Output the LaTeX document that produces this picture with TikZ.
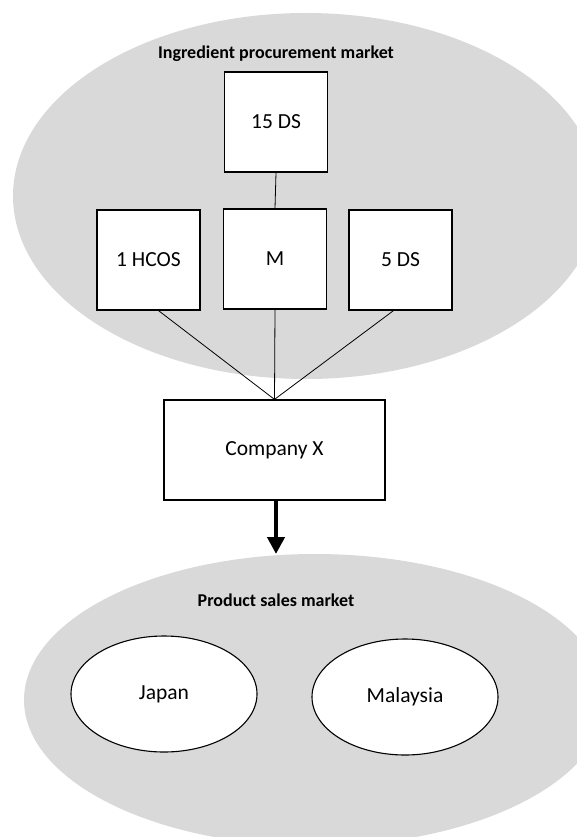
\documentclass[tikz,border=0pt]{standalone}
\usepackage{fontspec}
\setmainfont{Carlito}
\usetikzlibrary{shapes.geometric,arrows.meta,calc}

\definecolor{marketgrey}{RGB}{217,217,217}

\tikzset{
  market/.style={ellipse, fill=marketgrey, draw=none, inner sep=0pt},
  marketlabel/.style={font=\fontsize{18}{20}\selectfont\bfseries, inner sep=0pt},
  actor/.style={rectangle, draw=black, line width=1.2pt, fill=white,
    minimum width=103pt, minimum height=100pt, inner sep=0pt,
    font=\fontsize{21.5}{24}\selectfont},
  country/.style={ellipse, draw=black, line width=1.1pt, fill=white,
    minimum width=186pt, minimum height=116pt, inner sep=0pt,
    font=\fontsize{21.5}{24}\selectfont},
  link/.style={draw=black, line width=0.8pt},
  flow/.style={draw=black, line width=4.5pt,
    -{Triangle[width=17pt,length=17pt]}, shorten <=0.6pt}
}

\begin{document}
\begin{tikzpicture}[x=1pt, y=-1pt]
  \useasboundingbox (0,0) rectangle (577,837);
  \clip (0,0) rectangle (577,837);

  % the two markets
  \node[market, minimum width=586pt, minimum height=366pt] (procure) at (306,196) {};
  \node[market, minimum width=582pt, minimum height=292pt] (sales) at (315,700) {};

  \node[marketlabel] (procurelabel) at (276,54) {Ingredient procurement market};
  \node[marketlabel] (saleslabel) at (276,600) {Product sales market};

  % suppliers
  \node[actor] (fifteen) at (276,122) {15 DS};
  \node[actor] (hcos) at (148.5,260) {1 HCOS};
  \node[actor] (m) at (275,259) {M};
  \node[actor] (fiveds) at (400.5,260) {5 DS};

  % the company
  \node[actor, minimum width=221pt] (company) at (274.5,450) {Company X};

  % sales countries
  \node[country] (japan) at (164,694) {Japan};
  \node[country] (malaysia) at (405,697) {Malaysia};

  % supply links
  \draw[link] (fifteen.south) -- (m.north);
  \draw[link] ($(hcos.south)+(10,0)$) -- (company.north);
  \draw[link] (m.south) -- (company.north);
  \draw[link] ($(fiveds.south)+(-7,0)$) -- (company.north);

  % product flow into the sales market
  \coordinate (salestop) at (276,554);
  \draw[flow] (company.south -| salestop) -- (salestop);
\end{tikzpicture}
\end{document}
